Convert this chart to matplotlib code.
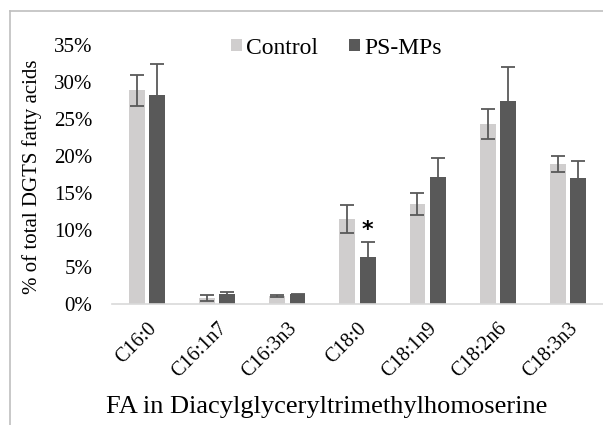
import matplotlib.pyplot as plt
import numpy as np
from matplotlib.lines import Line2D
from matplotlib.ticker import PercentFormatter

plt.rcParams['font.family'] = ['Liberation Serif', 'DejaVu Serif']

categories = ['C16:0', 'C16:1n7', 'C16:3n3', 'C18:0', 'C18:1n9', 'C18:2n6', 'C18:3n3']
control = [28.9, 0.8, 1.1, 11.5, 13.5, 24.3, 18.9]
control_err = [2.1, 0.35, 0.1, 1.9, 1.5, 2.0, 1.1]
ps_mps = [28.3, 1.4, 1.3, 6.3, 17.2, 27.5, 17.0]
ps_err = [4.2, 0.25, 0.1, 2.1, 2.5, 4.5, 2.3]

fig = plt.figure(figsize=(6.03, 4.25), dpi=100)
ax = fig.add_axes([112 / 603, 1 - 304 / 425, 491 / 603, 259 / 425])

x = np.arange(len(categories))
w = 0.225
errkw = dict(ecolor='#595959', elinewidth=1.3, capsize=5, capthick=1.3)
ax.bar(x - 0.145, control, w, yerr=control_err, color='#d0cece', label='Control', error_kw=errkw)
ax.bar(x + 0.145, ps_mps, w, yerr=ps_err, color='#595959', label='PS-MPs', error_kw=errkw)

# significance marker
ax.text(x[3] + 0.145, ps_mps[3] + ps_err[3] + 0.3, '*', ha='center', va='bottom',
        fontsize=16, fontweight='bold', family='DejaVu Sans')

ax.set_xlim(-0.5, len(categories) - 0.5)
ax.set_ylim(0, 35)
ax.set_yticks(range(0, 36, 5))
ax.yaxis.set_major_formatter(PercentFormatter(decimals=0))
ax.set_xticks(x)
ax.set_xticklabels(categories, rotation=45, ha='right', rotation_mode='anchor', fontsize=14.5)
ax.tick_params(axis='y', labelsize=15, length=0, pad=14)
ax.tick_params(axis='x', length=0, pad=11)
for s in ['top', 'right', 'left']:
    ax.spines[s].set_visible(False)
ax.spines['bottom'].set_color('#d9d9d9')
ax.spines['bottom'].set_linewidth(1.2)

ax.set_ylabel('% of total DGTS fatty acids', fontsize=15)
ax.yaxis.set_label_coords(-(112 - 42) / 491, 0.49)
fig.text(327 / 603, 1 - 407 / 425, 'FA in Diacylglyceryltrimethylhomoserine', ha='center', va='center', fontsize=19)

fig.legend(loc='center left', bbox_to_anchor=(231 / 603, 1 - 48 / 425), ncol=2, frameon=False, fontsize=17,
           handlelength=0.45, handleheight=0.45, handletextpad=0.2, columnspacing=1.3,
           borderaxespad=0, borderpad=0)

# chart frame lines (top and left)
fig.add_artist(Line2D([10 / 603, 10 / 603], [0, 1 - 11 / 425], color='#bfbfbf', lw=1.2))
fig.add_artist(Line2D([10 / 603, 1], [1 - 11 / 425, 1 - 11 / 425], color='#bfbfbf', lw=1.2))

fig.savefig('out.png', dpi=100)
